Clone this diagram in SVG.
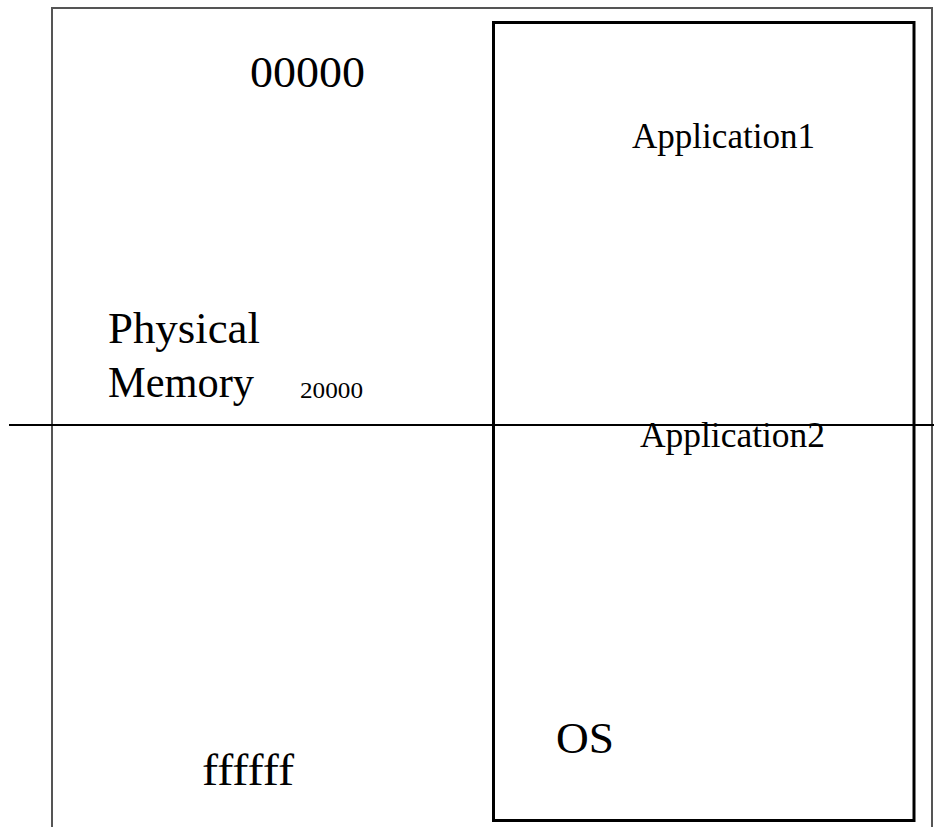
<svg xmlns="http://www.w3.org/2000/svg" width="934" height="827" viewBox="0 0 934 827">
<style>
text{font-family:'Liberation Serif','DejaVu Serif',serif;fill:#000}
.big{font-size:45px}
.app{font-size:35px}
.small{font-size:24px}
</style>
<rect width="934" height="827" fill="#fff"/>
<g id="frame">
<polyline points="52,827 52,8 932,8 932,827" fill="none" stroke="#555" stroke-width="2"/>
</g>
<g id="memory-labels">
<text class="big" x="250" y="87" textLength="115" lengthAdjust="spacingAndGlyphs">00000</text>
<text class="big" x="108" y="343" textLength="152" lengthAdjust="spacingAndGlyphs">Physical</text>
<text class="big" x="108" y="397" textLength="146" lengthAdjust="spacingAndGlyphs">Memory</text>
<text class="small" x="300" y="398" textLength="63" lengthAdjust="spacingAndGlyphs">20000</text>
<text class="big" x="202" y="785" textLength="92" lengthAdjust="spacingAndGlyphs">ffffff</text>
</g>
<g id="memory-box">
<rect x="493.5" y="22.5" width="420.5" height="798" fill="none" stroke="#000" stroke-width="3"/>
<text class="app" x="632" y="148" textLength="183" lengthAdjust="spacingAndGlyphs">Application1</text>
<text class="app" x="640" y="447" textLength="185" lengthAdjust="spacingAndGlyphs">Application2</text>
<text class="big" x="556" y="753" textLength="58" lengthAdjust="spacingAndGlyphs">OS</text>
</g>
<g id="connectors">
<line x1="9" y1="425" x2="934" y2="425" stroke="#000" stroke-width="2"/>
</g>
</svg>
